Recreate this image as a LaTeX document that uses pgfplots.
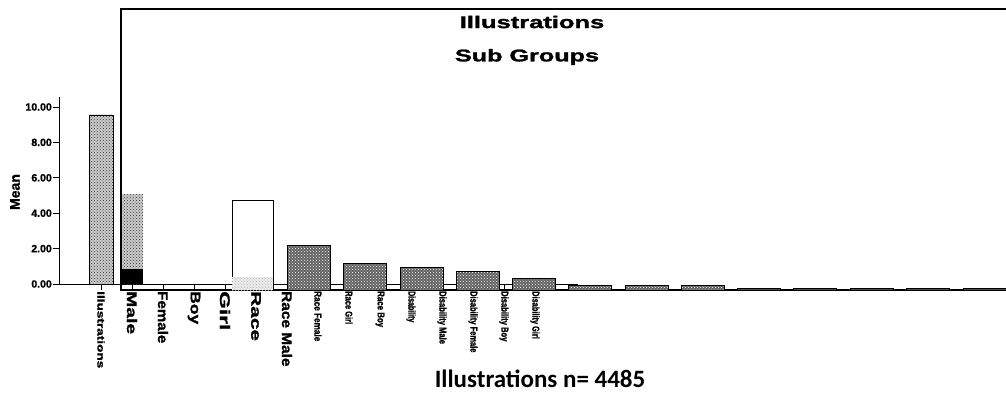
\documentclass[border=0pt]{standalone}
\usepackage{fontspec}
\setmainfont{Liberation Sans}[BoldFeatures={FakeBold=1.3}]
\newfontfamily\calibri{Carlito}
\usepackage{graphicx}
\usepackage{pgfplots}
\pgfplotsset{compat=1.18}
\usetikzlibrary{patterns}
\newcommand{\lblB}[2]{\fontsize{14}{14}\selectfont\bfseries\scalebox{#1}[1]{#2}}
\newcommand{\lblS}[2]{\fontsize{10}{10}\selectfont\bfseries\scalebox{#1}[1]{#2}}
\begin{document}
\begin{tikzpicture}
% ---------- first chart (means) ----------
\begin{axis}[
  at={(59pt,110pt)}, anchor=south west, scale only axis,
  width=519pt, height=187pt,
  xmin=59, xmax=578, ymin=0, ymax=10.565,
  axis x line*=bottom, axis y line*=left,
  axis line style={line width=0.9pt, black},
  tick align=outside, major tick length=6pt,
  tick style={line width=0.9pt, black},
  xtick={101,132,163,194,225,256,287,318,349,380,411,442,473,504,535},
  xticklabels={\lblS{1.36}{Illustrations},\lblB{1.38}{Male},\lblB{1.08}{Female},\lblB{1.25}{Boy},\lblB{1.62}{Girl},\lblB{1.49}{Race},\lblB{1.1}{Race Male},\lblS{0.82}{Race Female},\lblS{0.75}{Race Girl},\lblS{0.79}{Race Boy},\lblS{0.70}{Disability},\lblS{0.76}{Disability Male},\lblS{0.75}{Disability Female},\lblS{0.76}{Disability Boy},\lblS{0.74}{Disability Girl}},
  xticklabel style={rotate=-90, anchor=west, inner sep=1pt},
  ytick={0,2,4,6,8,10},
  yticklabels={0.00,2.00,4.00,6.00,8.00,10.00},
  yticklabel style={font=\fontsize{10.5}{12}\selectfont\bfseries, inner sep=1pt},
]
\addplot[ybar, bar width=24, bar shift=0pt, draw=black, line width=0.8pt, fill=gray!40,
  postaction={pattern=crosshatch dots, pattern color=black!80}] coordinates {(101,9.55)};
\addplot[ybar, bar width=23, bar shift=0pt, draw=none, fill=gray!40,
  postaction={pattern=crosshatch dots, pattern color=black!80}] coordinates {(131.5,5.08)};
\addplot[ybar, bar width=23, bar shift=0pt, draw=none, fill=black] coordinates {(131.5,0.85)};
\end{axis}
% ---------- second chart (sub groups) ----------
\begin{axis}[
  at={(121pt,104pt)}, anchor=south west, scale only axis,
  width=889pt, height=281pt,
  xmin=121, xmax=1010, ymin=0, ymax=15.876,
  xtick=\empty, ytick=\empty,
  axis line style={line width=1.2pt, black},
]
\addplot[ybar, bar width=41, bar shift=0pt, draw=black, line width=0.8pt, fill=white] coordinates {(252.5,5.08)};
\addplot[ybar, bar width=41, bar shift=0pt, draw=none, fill=gray!15,
  postaction={pattern=crosshatch dots, pattern color=gray!60}] coordinates {(252.5,0.73)};
\addplot[ybar, bar width=43, bar shift=0pt, draw=black, line width=0.8pt, fill=black!62,
  postaction={pattern=crosshatch dots, pattern color=white}] coordinates {
  (308.5,2.50) (364.5,1.51) (421.5,1.28) (477.5,1.07) (533.5,0.64)
  (590,0.28) (646.5,0.28) (702.5,0.28)};
\addplot[ybar, bar width=43, bar shift=0pt, draw=black, line width=0.8pt, fill=black!70] coordinates {
  (759,0.08) (815,0.08) (871.5,0.08) (928,0.08) (984.5,0.08)};
\end{axis}
\node[rotate=90, font=\fontsize{14}{14}\selectfont\bfseries] at (15pt,202pt) {Mean};
\node[font=\fontsize{17}{17}\selectfont\bfseries] at (532pt,372pt) {\scalebox{1.5}[1]{Illustrations}};
\node[font=\fontsize{17}{17}\selectfont\bfseries] at (527pt,337pt) {\scalebox{1.48}[1]{Sub Groups}};
\node[font=\calibri\fontsize{25}{25}\selectfont\bfseries] at (540pt,15pt) {Illustrations n= 4485};
\pgfresetboundingbox
\useasboundingbox (0,0) rectangle (1006pt,394pt);
\end{tikzpicture}
\end{document}
